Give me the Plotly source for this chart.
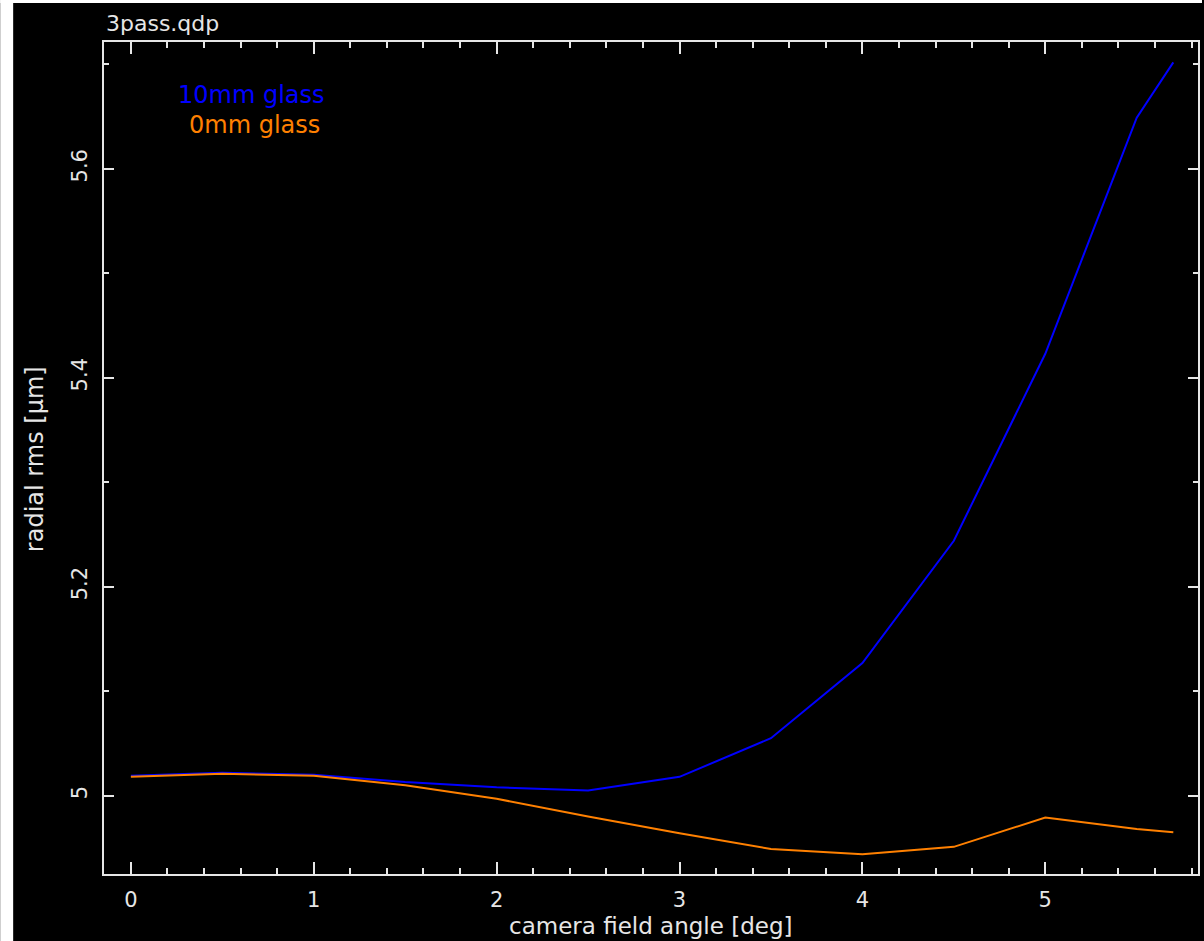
import plotly.graph_objects as go

angle = [0, 0.5, 1, 1.5, 2, 2.5, 3, 3.5, 4, 4.5, 5, 5.5, 5.7]
rms_10mm = [5.019, 5.022, 5.020, 5.013, 5.008, 5.005, 5.018, 5.055, 5.127, 5.244, 5.423, 5.649, 5.702]
rms_0mm = [5.018, 5.021, 5.019, 5.010, 4.997, 4.980, 4.964, 4.949, 4.944, 4.951, 4.979, 4.968, 4.965]

FG = "#e6e6e6"
FONT = "DejaVu Sans"
W, H = 1204, 941
L, R, T, B = 104, 4, 42, 67

fig = go.Figure()
fig.add_trace(go.Scatter(x=angle, y=rms_10mm, mode="lines",
                         line=dict(color="#0000ff", width=2), name="10mm glass"))
fig.add_trace(go.Scatter(x=angle, y=rms_0mm, mode="lines",
                         line=dict(color="#ff8000", width=2), name="0mm glass"))

axis_common = dict(showgrid=False, zeroline=False, showline=True, linecolor=FG,
                   linewidth=2, mirror="allticks", ticks="inside", tickcolor=FG,
                   tickwidth=2, tickfont=dict(family=FONT, size=21, color=FG))

fig.update_xaxes(range=[-0.147, 5.835], tick0=0, dtick=1, ticklen=12,
                 ticklabelstandoff=6,
                 minor=dict(dtick=0.2, tick0=0, ticklen=6, ticks="inside",
                            tickcolor=FG, tickwidth=2),
                 **axis_common)
fig.update_yaxes(range=[4.925, 5.7215], tick0=5, dtick=0.2, ticklen=10,
                 tickangle=-90, ticklabelstandoff=7,
                 minor=dict(dtick=0.1, tick0=5, ticklen=5, ticks="inside",
                            tickcolor=FG, tickwidth=2),
                 **axis_common)

def px_x(p):
    return (p - L) / (W - L - R)

def px_y(p):
    return (H - B - p) / (H - T - B)

annotations = [
    dict(text="3pass.qdp", x=px_x(104), y=px_y(24), xanchor="left", yanchor="middle",
         font=dict(family=FONT, size=22, color=FG)),
    dict(text="10mm glass", x=px_x(252), y=px_y(95), xanchor="center", yanchor="middle",
         font=dict(family=FONT, size=24, color="#0000ff")),
    dict(text="0mm glass", x=px_x(255), y=px_y(125), xanchor="center", yanchor="middle",
         font=dict(family=FONT, size=24, color="#ff8000")),
    dict(text="camera field angle [deg]", x=px_x(652), y=px_y(926), xanchor="center",
         yanchor="middle", font=dict(family=FONT, size=23, color=FG)),
    dict(text="radial rms [μm]", x=px_x(35), y=px_y(459), xanchor="center",
         yanchor="middle", textangle=-90, font=dict(family=FONT, size=24, color=FG)),
]
for a in annotations:
    a.update(xref="paper", yref="paper", showarrow=False)

shapes = [
    dict(type="rect", xref="paper", yref="paper", x0=px_x(0), x1=px_x(13),
         y0=px_y(H), y1=px_y(0), fillcolor="white", line=dict(width=0), layer="above"),
    dict(type="rect", xref="paper", yref="paper", x0=px_x(0), x1=px_x(W),
         y0=px_y(3), y1=px_y(0), fillcolor="white", line=dict(width=0), layer="above"),
]

fig.update_layout(width=W, height=H, margin=dict(l=L, r=R, t=T, b=B),
                  paper_bgcolor="black", plot_bgcolor="black", showlegend=False,
                  annotations=annotations, shapes=shapes)

fig.write_html("out.html")
